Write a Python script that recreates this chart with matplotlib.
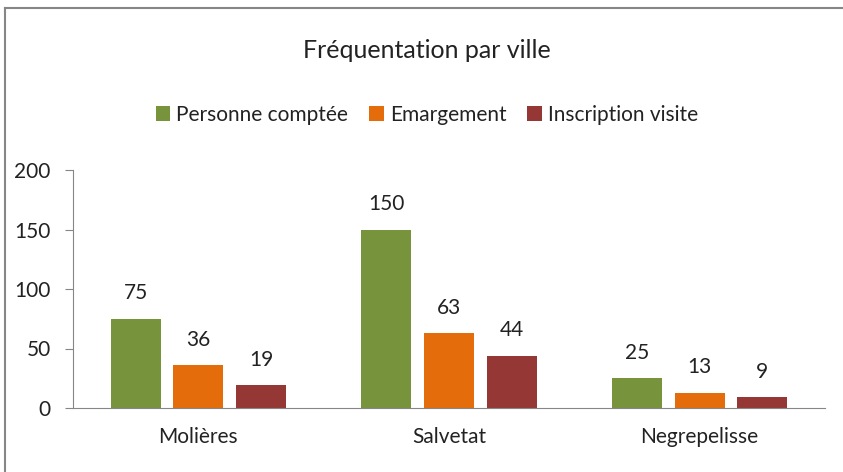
import numpy as np
import matplotlib.pyplot as plt
from matplotlib.lines import Line2D

villes = ["Molières", "Salvetat", "Negrepelisse"]
series = ["Personne comptée", "Emargement", "Inscription visite"]
personne = [75, 150, 25]
emargement = [36, 63, 13]
inscription = [19, 44, 9]
couleurs = ["#77933C", "#E46C0A", "#953735"]

plt.rcParams['font.family'] = ['Lato', 'DejaVu Sans']

fig = plt.figure(figsize=(8.43, 4.72), dpi=100)
ax = fig.add_axes([73 / 843, 64 / 472, (825 - 73) / 843, (408 - 170) / 472])

x = np.arange(len(villes))
width = 0.2
for i, (vals, nom) in enumerate(zip([personne, emargement, inscription], series)):
    pos = x + (i - 1) * 0.25
    bars = ax.bar(pos, vals, width, color=couleurs[i], label=nom)
    for b, v in zip(bars, vals):
        ax.text(b.get_x() + b.get_width() / 2, v + 13, str(v), ha='center', va='bottom',
                fontsize=15, color='#222222')

ax.set_xlim(-0.5, 2.5)
ax.set_ylim(0, 200)
ax.set_yticks([0, 50, 100, 150, 200])
ax.set_xticks(x)
ax.set_xticklabels(villes)
ax.tick_params(axis='y', length=6, color='#868686', labelsize=15, pad=10, labelcolor='#222222')
ax.tick_params(axis='x', length=0, labelsize=15, pad=14, labelcolor='#222222')
for s in ['top', 'right']:
    ax.spines[s].set_visible(False)
for s in ['left', 'bottom']:
    ax.spines[s].set_color('#868686')

fig.text(427 / 843, 1 - 51 / 472, "Fréquentation par ville", ha='center', va='center',
         fontsize=18, color='#222222')
fig.legend(loc='center', bbox_to_anchor=(427 / 843, 1 - 115 / 472), ncol=3, frameon=False,
           fontsize=15, handlelength=0.7, handleheight=0.7, handletextpad=0.3,
           columnspacing=1.0, labelcolor='#222222')

# cadre du graphique (bords haut et gauche seulement visibles)
top = 1 - 8 / 472
left = 5 / 843
fig.lines.append(Line2D([left, 1], [top, top], transform=fig.transFigure,
                        color='#868686', linewidth=1.5))
fig.lines.append(Line2D([left, left], [0, top], transform=fig.transFigure,
                        color='#868686', linewidth=1.5))

fig.savefig("out.png", dpi=100)
